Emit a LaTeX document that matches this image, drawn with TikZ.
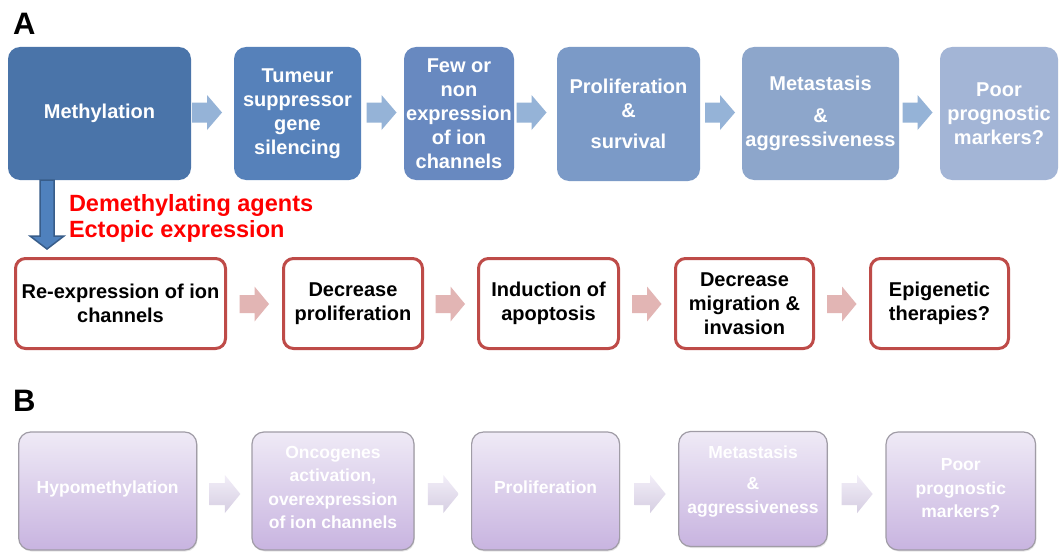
\documentclass[tikz,border=0pt]{standalone}
\usepackage{fontspec}
\setmainfont{Liberation Sans}
\usetikzlibrary{calc,shadows}
\definecolor{cmeth}{HTML}{4A74A9}
\definecolor{ctum}{HTML}{5681BA}
\definecolor{cfew}{HTML}{6889C0}
\definecolor{cprol}{HTML}{7B9AC7}
\definecolor{cmeta}{HTML}{8DA6CB}
\definecolor{cpoor}{HTML}{A3B5D6}
\definecolor{carrow}{HTML}{95B3D7}
\definecolor{cred}{HTML}{BE4B48}
\definecolor{cpink}{HTML}{E2B5B4}
\definecolor{cdown}{HTML}{4F81BD}
\definecolor{cdownline}{HTML}{385D8A}
\definecolor{lavtop}{HTML}{EFEAF6}
\definecolor{lavbot}{HTML}{C8B4E0}
\definecolor{lavline}{HTML}{A09CA6}
\definecolor{lavarrowtop}{HTML}{F2EEF8}
\definecolor{lavarrowbot}{HTML}{D6CEE2}
\newcommand\topfnt{\fontsize{20}{24}\selectfont\bfseries}
\newcommand\lavfnt{\fontsize{17.5}{23.5}\selectfont\bfseries}
\newcommand\redfnt{\fontsize{23.5}{25.5}\selectfont\bfseries}
\newcommand\labfnt{\fontsize{31}{31}\selectfont\bfseries}
\tikzset{
  every node/.style={inner sep=0pt, outer sep=0pt},
  topbox/.style={rounded corners=12pt, text=white, align=center, font=\topfnt},
  redbox/.style={draw=cred, line width=3pt, fill=white, rounded corners=10pt, text=black, align=center, font=\topfnt},
  lavbox/.style={draw=lavline, line width=1.2pt, top color=lavtop, bottom color=lavbot, rounded corners=12pt,
     drop shadow={opacity=0.2, shadow xshift=0.8pt, shadow yshift=-1.5pt}},
  lavtext/.style={text=white, align=center, font=\lavfnt},
  panel/.style={font=\labfnt, text=black, anchor=west},
  harrow/.pic={\path[pic actions] (-15,-10) -- (0,-10) -- (0,-17.5) -- (15,0) -- (0,17.5) -- (0,10) -- (-15,10) -- cycle;},
  parrow/.pic={\path[pic actions] (-15,-9) -- (0,-9) -- (0,-17.5) -- (14.5,0) -- (0,17.5) -- (0,9) -- (-15,9) -- cycle;},
  larrow/.pic={\path[pic actions] (-15.5,-11) -- (0,-11) -- (0,-19) -- (15.5,0) -- (0,19) -- (0,11) -- (-15.5,11) -- cycle;},
  bluearrow/.style={fill=carrow, draw=none},
  pinkarrow/.style={fill=cpink, draw=none},
  lavarrow/.style={top color=lavarrowtop, bottom color=lavarrowbot, draw=none,
     drop shadow={opacity=0.4, shadow xshift=1pt, shadow yshift=-2pt}},
  downarrow/.style={fill=cdown, draw=cdownline, line width=1.5pt, line join=miter},
}
\begin{document}
\begin{tikzpicture}[x=1pt,y=-1pt]
\useasboundingbox[fill=white] (0,0) rectangle (1059,551);

% panel labels
\node[panel] (labA) at (13,24) {A};
\node[panel] (labB) at (13,401) {B};

% ---- row A top ----
\node[topbox, fill=cmeth, minimum width=183pt, minimum height=133pt] (meth) at (99.5,113.5) {Methylation};
\node[topbox, fill=ctum, minimum width=127pt, minimum height=133pt] (tum) at (297.5,113.5) {Tumeur\\suppressor\\gene\\silencing};
\node[topbox, fill=cfew, minimum width=110pt, minimum height=133pt] (few) at (459,113.5) {Few or\\non\\expression\\of ion\\channels};
\node[topbox, fill=cprol, minimum width=143pt, minimum height=134pt] (prol) at (628.5,114) {Proliferation\\\&\\[7pt]survival};
\node[topbox, fill=cmeta, minimum width=157pt, minimum height=133pt] (meta) at (820.5,113.5) {Metastasis\\[8pt]\&\\aggressiveness};
\node[topbox, fill=cpoor, minimum width=118pt, minimum height=133pt] (poor) at (999,113.5) {Poor\\prognostic\\markers?};

\pic[bluearrow] at ($(meth.east)+(16,-1)$) {harrow};
\pic[bluearrow] at ($(tum.east)+(20.5,-1)$) {harrow};
\pic[bluearrow] at ($(few.east)+(17.5,-1)$) {harrow};
\pic[bluearrow] at ($(prol.east)+(20,-1.5)$) {harrow};
\pic[bluearrow] at ($(meta.east)+(18.5,-1)$) {harrow};

% down arrow
\coordinate (dtop) at ($(meth.south west)+(39,0)$);
\draw[downarrow] ($(dtop)+(-7,0)$) -- ($(dtop)+(7,0)$) -- ($(dtop)+(7,56)$) -- ($(dtop)+(17,56)$)
   -- ($(dtop)+(0,69)$) -- ($(dtop)+(-17,56)$) -- ($(dtop)+(-7,56)$) -- cycle;

\node[font=\redfnt, text=red, align=left, anchor=west] (agents) at (69,218.5) {Demethylating agents\\Ectopic expression};

% ---- row A bottom ----
\node[redbox, minimum width=210pt, minimum height=90pt] (re) at (120.5,303.5) {Re-expression of ion\\channels};
\node[redbox, minimum width=139pt, minimum height=90pt] (dec) at (353,303.5) {Decrease\\proliferation};
\node[redbox, minimum width=140pt, minimum height=90pt] (ind) at (548.5,303.5) {Induction of\\apoptosis};
\node[redbox, minimum width=138pt, minimum height=90pt] (mig) at (744.5,303.5) {Decrease\\migration \&\\invasion};
\node[redbox, minimum width=138pt, minimum height=90pt] (epi) at (939.5,303.5) {Epigenetic\\therapies?};

\pic[pinkarrow] at ($(re.east)!0.5!(dec.west)+(0,0.5)$) {parrow};
\pic[pinkarrow] at ($(dec.east)!0.5!(ind.west)+(0,0.5)$) {parrow};
\pic[pinkarrow] at ($(ind.east)!0.5!(mig.west)+(0,0.5)$) {parrow};
\pic[pinkarrow] at ($(mig.east)!0.5!(epi.west)+(0,0.5)$) {parrow};

% ---- row B ----
\node[lavbox, minimum width=178pt, minimum height=118pt] (hypo) at (107.7,491) {};
\node[lavbox, minimum width=162pt, minimum height=118pt] (onc) at (333,491) {};
\node[lavbox, minimum width=148pt, minimum height=118pt] (prol2) at (545.6,491) {};
\node[lavbox, minimum width=148.5pt, minimum height=115pt] (meta2) at (753,489) {};
\node[lavbox, minimum width=149.5pt, minimum height=118pt] (poor2) at (960.8,491) {};

\node[lavtext] (hypot) at ($(hypo.center)+(0,-2)$) {Hypomethylation};
\node[lavtext] (onct) at ($(onc.center)+(0,-3.5)$) {Oncogenes\\activation,\\overexpression\\of ion channels};
\node[lavtext] (prol2t) at ($(prol2.center)+(0,-4)$) {Proliferation};
\node[lavtext] (meta2t) at ($(meta2.center)+(0,-7.5)$) {Metastasis\\[8pt]\&\\aggressiveness};
\node[lavtext] (poor2t) at ($(poor2.center)+(0,-2.5)$) {Poor\\prognostic\\markers?};

\pic[lavarrow] at ($(hypo.east)!0.5!(onc.west)+(0.5,3)$) {larrow};
\pic[lavarrow] at ($(onc.east)!0.5!(prol2.west)+(0.5,3)$) {larrow};
\pic[lavarrow] at ($(prol2.east)!0.5!(meta2.west)+(1,4)$) {larrow};
\pic[lavarrow] at ($(meta2.east)!0.5!(poor2.west)+(0.5,4)$) {larrow};
\end{tikzpicture}
\end{document}
